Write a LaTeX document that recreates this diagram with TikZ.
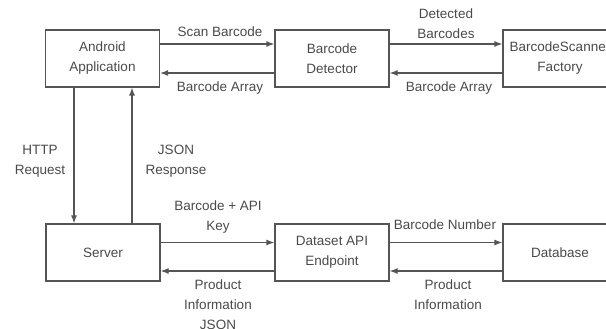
\documentclass[tikz,border=0pt]{standalone}
\usepackage{fontspec}
\setmainfont{Liberation Sans}
\usetikzlibrary{arrows.meta}
\definecolor{txt}{HTML}{4A4A4A}
\definecolor{ln}{HTML}{555555}
\begin{document}
\begin{tikzpicture}[x=1pt,y=-1pt,
  box/.style={draw=ln,line width=1.2pt,minimum width=114pt,minimum height=57pt,inner sep=0pt,align=center,text=txt,font=\fontsize{13.5}{20}\selectfont},
  lbl/.style={text=txt,align=center,inner sep=0pt,font=\fontsize{13.5}{20}\selectfont},
  arr/.style={draw=ln,line width=1.2pt,-{Latex[length=8pt,width=6pt]}}]
\useasboundingbox (0,0) rectangle (606,329);
\begin{scope}
\clip (0,0) rectangle (606,329);
\node[box] (and) at (102.5,58.5) {Android\\Application};
\node[box] (det) at (332,58.5) {Barcode\\Detector};
\node[box] (fac) at (560,58.5) {BarcodeScanner\\Factory};
\node[box] (srv) at (103,252.5) {Server};
\node[box] (api) at (332,252.5) {Dataset API\\Endpoint};
\node[box] (db) at (560,252.5) {Database};

\draw[arr] ([yshift=14.5pt]and.east) -- ([yshift=14.5pt]det.west);
\draw[arr] ([yshift=-14.5pt]det.west) -- ([yshift=-14.5pt]and.east);
\draw[arr] ([yshift=14.5pt]det.east) -- ([yshift=14.5pt]fac.west);
\draw[arr] ([yshift=-14.5pt]fac.west) -- ([yshift=-14.5pt]det.east);

\draw[arr] ([xshift=-28.5pt]and.south) -- ([xshift=-29pt]srv.north);
\draw[arr] ([xshift=29pt]srv.north) -- ([xshift=29.5pt]and.south);

\draw[arr] ([yshift=10pt]srv.east) -- ([yshift=10pt]api.west);
\draw[arr] ([yshift=-18.5pt]api.west) -- ([yshift=-18.5pt]srv.east);
\draw[arr] ([yshift=10pt]api.east) -- ([yshift=10pt]db.west);
\draw[arr] ([yshift=-18.5pt]db.west) -- ([yshift=-18.5pt]api.east);

\node[lbl] (l1) at (220,32) {Scan Barcode};
\node[lbl] (l2) at (220,88) {Barcode Array};
\node[lbl] (l3) at (446,23.5) {Detected\\Barcodes};
\node[lbl] (l4) at (449,88) {Barcode Array};
\node[lbl] (l5) at (40,161) {HTTP\\Request};
\node[lbl] (l6) at (176,161) {JSON\\Response};
\node[lbl] (l7) at (218,217) {Barcode + API\\Key};
\node[lbl] (l8) at (218,305) {Product\\Information\\JSON};
\node[lbl] (l9) at (445,225) {Barcode Number};
\node[lbl] (l10) at (448,295) {Product\\Information};
\end{scope}
\end{tikzpicture}
\end{document}
